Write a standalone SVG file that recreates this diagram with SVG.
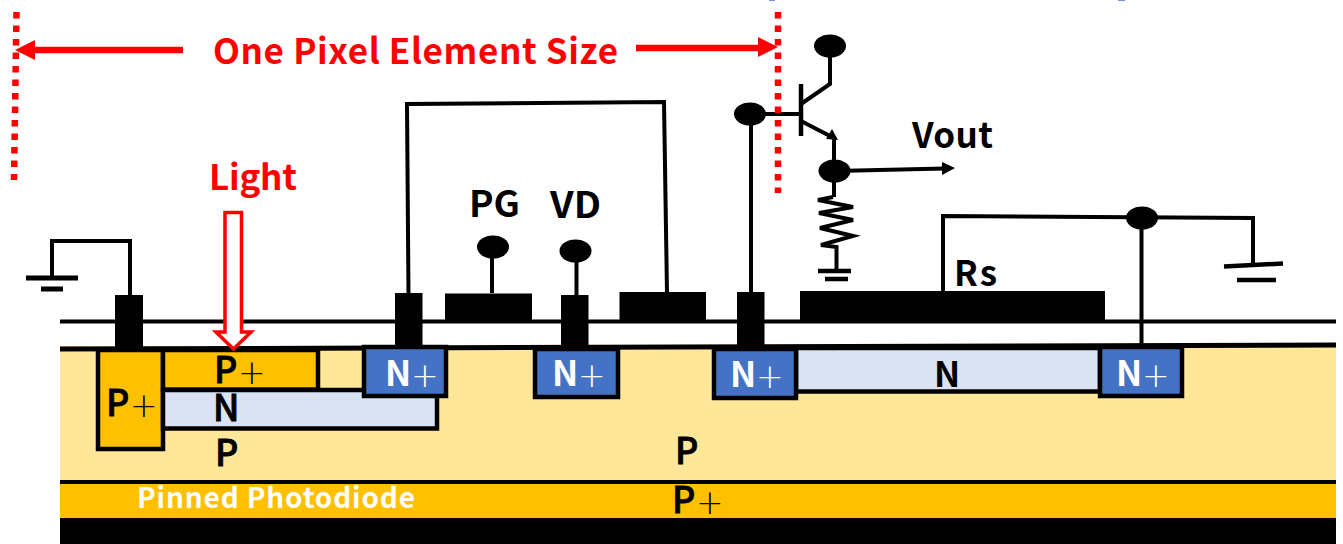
<svg xmlns="http://www.w3.org/2000/svg" width="1343" height="544" viewBox="0 0 1343 544">
<style>
text{font-family:"Noto Sans CJK JP","Noto Sans",sans-serif;font-weight:700;font-size:35px;fill:#000}
.m{font-weight:500;font-size:36px;stroke:#000;stroke-width:.8}
.red{fill:#f00}
.wh{fill:#fff}
.pl{font-family:"DejaVu Sans",sans-serif;font-weight:200;font-size:33px}
.dev{stroke:#000;stroke-width:4.5}
.pp{fill:#ffc000}
.nl{fill:#dae3f3}
.np{fill:#4472c4}
.w{fill:none;stroke:#000;stroke-width:4}
.k{fill:#000;stroke:none}
.dot{fill:none;stroke:#f00;stroke-width:6.5;stroke-dasharray:6.5 7}
</style>
<g id="substrate">
<rect x="60" y="346" width="1276" height="136" fill="#ffe699"/>
<rect x="60" y="484" width="1276" height="34" class="pp"/>
<rect x="60" y="518" width="1276" height="26" class="k"/>
<path d="M60 482H1336" class="w"/>
<path d="M60 321.500H1336" class="w"/>
<path d="M60 349L1336 345" class="w" style="stroke-width:5"/>
</g>
<g id="top-marks"><rect x="769" y="0" width="6" height="1" fill="#6f94dc"/><rect x="1118" y="0" width="7" height="1" fill="#6f94dc"/></g>
<g id="p-plus-left"><rect x="98" y="350" width="65" height="99" class="pp dev"/><text x="106" y="416" class="m">P</text><text x="130" y="417" class="pl">+</text></g>
<g id="n-well-left"><rect x="163" y="390" width="274" height="38.500" class="nl dev"/><text x="213" y="421" class="m">N</text></g>
<g id="p-plus-top"><rect x="163" y="350" width="155" height="39.500" class="pp dev"/><text x="214" y="383" class="m">P</text><text x="238" y="384" class="pl">+</text></g>
<g id="n-plus-1"><rect x="364" y="347" width="82" height="49" class="np dev"/><text x="385" y="386" class="wh">N</text><text x="411" y="387" class="pl wh">+</text></g>
<g id="n-plus-2"><rect x="535" y="349" width="83" height="48" class="np dev"/><text x="552" y="386" class="wh">N</text><text x="578" y="387" class="pl wh">+</text></g>
<g id="n-well-right"><rect x="796" y="348" width="304" height="43.500" class="nl dev"/><text x="934" y="387">N</text></g>
<g id="n-plus-3"><rect x="714" y="349" width="82" height="49" class="np dev"/><text x="730" y="387" class="wh">N</text><text x="756" y="388" class="pl wh">+</text></g>
<g id="n-plus-4"><rect x="1100" y="347" width="82" height="49" class="np dev"/><text x="1116" y="386" class="wh">N</text><text x="1142" y="387" class="pl wh">+</text></g>
<g id="layer-labels">
<text x="215" y="466" class="m">P</text>
<text x="675" y="464" class="m">P</text>
<text x="672" y="513" class="m">P</text><text x="696" y="514" class="pl">+</text>
<text x="137" y="508" class="wh" style="font-size:28px" textLength="278">Pinned Photodiode</text>
</g>
<g id="contacts">
<rect x="115" y="295" width="28" height="54" class="k"/>
<rect x="395" y="293" width="27.500" height="54" class="k"/>
<rect x="561" y="295" width="27.500" height="54" class="k"/>
<rect x="737" y="292" width="27.500" height="56" class="k"/>
</g>
<g id="gates">
<rect x="445" y="293.500" width="87" height="28" class="k"/>
<rect x="619.500" y="292" width="86.500" height="29" class="k"/>
<rect x="800" y="291" width="305" height="30" class="k"/>
</g>
<g id="connectors">
<path d="M130 295V241H52V278" class="w"/>
<path d="M26 278H78M41 289H63" class="w" style="stroke-width:5"/>
<path d="M408.500 295L407 104L664 102L667 293" class="w"/>
<path d="M492 293V247M576.500 295V251" class="w"/>
<path d="M751 292V114H799" class="w"/>
<path d="M801 84V136" class="w" style="stroke-width:4.500"/>
<path d="M801 104L830 84V46" class="w"/>
<path d="M801 121L830 136" class="w"/>
<path d="M838 140L826 139L832 129Z" class="k"/>
<path d="M834 137V197" class="w"/>
<path d="M835 171L945 168.500" class="w"/>
<path d="M942 162L955 168L942 175Z" class="k"/>
<path d="M833 197L818 200L853 207L819 213L853 220L820 228L853 236L821 245L836.500 247V270" fill="none" stroke="#000" stroke-width="4"/>
<path d="M818 271H851M825 279H848" class="w" style="stroke-width:4.500"/>
<path d="M943 292V216L1253 218V265" class="w"/>
<path d="M1141.500 218V347" class="w"/>
<path d="M1224 266.500L1283 263.500M1237 280H1276" class="w" style="stroke-width:4.500"/>
</g>
<g id="terminals">
<ellipse cx="493" cy="247" rx="16" ry="11.500" class="k"/>
<ellipse cx="575.500" cy="251" rx="16" ry="11.500" class="k"/>
<ellipse cx="750" cy="114" rx="16" ry="11.500" class="k"/>
<ellipse cx="830" cy="46" rx="16" ry="11.500" class="k"/>
<ellipse cx="834.500" cy="171" rx="16" ry="11.500" class="k"/>
<ellipse cx="1142" cy="218" rx="16" ry="11.500" class="k"/>
</g>
<g id="labels">
<text x="469" y="217" style="font-size:36px" textLength="51" lengthAdjust="spacingAndGlyphs">PG</text>
<text x="550" y="218" style="font-size:36px" textLength="51" lengthAdjust="spacingAndGlyphs">VD</text>
<text x="912" y="148" textLength="81">Vout</text>
<text x="954" y="286" textLength="43">Rs</text>
</g>
<g id="pixel-size">
<path d="M16.500 12L14 180" class="dot"/>
<path d="M778 12V193" class="dot"/>
<path d="M183 50H32" fill="none" stroke="#f00" stroke-width="6.500"/>
<path d="M15 50L35 40V60Z" fill="#f00"/>
<path d="M636 48H760" fill="none" stroke="#f00" stroke-width="6.500"/>
<path d="M778 47L758 37V57Z" fill="#f00"/>
<text x="213" y="64" class="red" textLength="405">One Pixel Element Size</text>
</g>
<g id="light">
<text x="209" y="190" class="red" textLength="88">Light</text>
<path d="M225 212.500H241.500V332H251L233.500 349L216 332H225Z" fill="#fff" stroke="#f00" stroke-width="3.500"/>
</g>
</svg>
